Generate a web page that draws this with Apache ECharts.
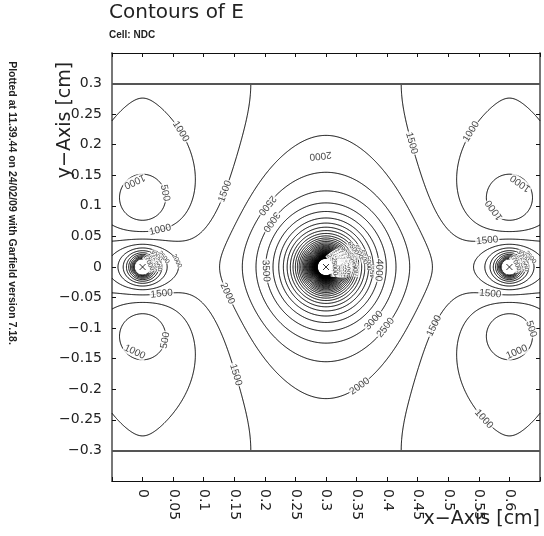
<!DOCTYPE html>
<html><head><meta charset="utf-8">
<script src="https://cdn.jsdelivr.net/npm/echarts@6/dist/echarts.min.js"></script>
<style>html,body{margin:0;padding:0;background:#fff}#c{width:544px;height:536px}</style>
</head><body><div id="c"></div>
<script>
// ---------------- data ----------------
const xTickLabels = ['0','0.05','0.1','0.15','0.2','0.25','0.3','0.35','0.4','0.45','0.5','0.55','0.6'];
const yTickLabels = ['0.3','0.25','0.2','0.15','0.1','0.05','0','−0.05','−0.1','−0.15','−0.2','−0.25','−0.3'];
// cell description (cm): one field wire and one sense wire per period, two planes
const wireX = [0.0, 0.3];
const wireY = [0.0, 0.0];
const wireCharge = [-0.244, 1.0];
const wireRadius = [0.012, 0.001];
const cellPeriod = [0.6];
const planeY = [-0.3, 0.3];
// field value: the 1500 V/cm contour meets the upper plane here
const calibX = [0.177];
const calibY = [0.3];
const calibE = [1500];
// contour levels (V/cm)
const contourLevels = [500,1000,1500,2000,2500,3000,3500,4000,4500,5000,5500,6000,6500,7000,7500,8000,8500,9000,9500,10000,
  10500,11000,11500,12000,12500,13000,13500,14000,14500,15000,15500,16000,16500,17000,17500,18000,18500,19000,19500,20000,
  20500,21000,21500,22000,22500,23000,23500,24000,24500,25000];
// contour labels (approximate position in cm, level, reading direction in degrees)
const labelX =    [0.291, 0.141, 0.430, 0.214, 0.225, 0.217, 0.378, 0.157, 0.162, 0.342, 0.386, 0.366, 0.465,
                   -0.013, 0.030, -0.013, 0.030, 0.618, 0.575, 0.631, 0.612, 0.579, 0.060, 0.540, 0.565, 0.030, 0.030, 0.570];
const labelY =    [0.182, 0.121, 0.200, 0.093, 0.064, -0.005, -0.005, -0.035, -0.173, -0.177, -0.090, -0.076, -0.090,
                   0.140, 0.120, -0.139, -0.119, 0.137, 0.093, -0.103, -0.139, -0.230, 0.220, 0.220, 0.028, -0.030, 0.055, -0.028];
const labelText = ['2000','1500','1500','2500','3000','3500','4000','2000','1500','2000','2500','3000','1500',
                   '1000','500','1000','500','1000','1000','500','1000','1000','1000','1000','1500','1500','1000','1500'];
const labelAngle = [180, 70, -70, -140, -140, -90, -90, -80, -70, 20, 45, 45, 70,
                   -90, -60, -90, 60, 90, 60, -90, 90, 30, -40, 40, 20, 0, 0, -20];
// wire markers
const markX = [0.0, 0.3, 0.6];
const markY = [0.0, 0.0, 0.0];

// ---------------- field model ----------------
const A = cellPeriod[0], H = planeY[1];
function fieldVec(x, y) {
  let re = 0, im = 0;
  for (let w = 0; w < wireX.length; w++) {
    const q = wireCharge[w];
    for (let n = -7; n <= 7; n++) {
      const s = (n % 2 === 0) ? 1 : -1;
      const yi = s * wireY[w] + 2 * n * H;
      const ax = Math.PI * (x - wireX[w]) / A, ay = Math.PI * (y - yi) / A;
      let D = Math.cosh(2 * ay) - Math.cos(2 * ax);
      if (D < 1e-14) D = 1e-14;
      re += q * s * Math.sin(2 * ax) / D;
      im -= q * s * Math.sinh(2 * ay) / D;
    }
  }
  return Math.PI / A * Math.sqrt(re * re + im * im);
}
const K = calibE[0] / fieldVec(calibX[0], calibY[0]);
const fieldAt = (x, y) => K * fieldVec(x, y);
function insideWire(x, y) {
  for (let w = 0; w < wireX.length; w++) {
    let dx = (x - wireX[w]) / A; dx = (dx - Math.round(dx)) * A;
    const dy = y - wireY[w];
    if (dx * dx + dy * dy < wireRadius[w] * wireRadius[w]) return true;
  }
  return false;
}

const x0 = -0.05, x1 = 0.65, y0 = planeY[0], y1 = planeY[1];
const step = 0.00125;
const nx = Math.round((x1 - x0) / step) + 1, ny = Math.round((y1 - y0) / step) + 1;
const F = new Float64Array(nx * ny);
for (let j = 0; j < ny; j++) for (let i = 0; i < nx; i++) {
  const x = x0 + i * step, y = y0 + j * step;
  F[j * nx + i] = insideWire(x, y) ? NaN : fieldAt(x, y);
}
const gx = i => x0 + i * step, gy = j => y0 + j * step;

function contour(L) {
  const segs = [];
  const HOFF = nx * ny;
  function ptH(i, j) { const a = F[j*nx+i], b = F[j*nx+i+1]; const t = (L - a) / (b - a); return [j*nx+i, gx(i) + t*step, gy(j)]; }
  function ptV(i, j) { const a = F[j*nx+i], b = F[(j+1)*nx+i]; const t = (L - a) / (b - a); return [HOFF + j*nx+i, gx(i), gy(j) + t*step]; }
  for (let j = 0; j < ny - 1; j++) for (let i = 0; i < nx - 1; i++) {
    const v0 = F[j*nx+i], v1 = F[j*nx+i+1], v2 = F[(j+1)*nx+i+1], v3 = F[(j+1)*nx+i];
    if (v0 !== v0 || v1 !== v1 || v2 !== v2 || v3 !== v3) continue;
    const s0 = v0 > L, s1 = v1 > L, s2 = v2 > L, s3 = v3 > L;
    if (s0 === s1 && s1 === s2 && s2 === s3) continue;
    const B = s0 !== s1 ? ptH(i, j) : null;
    const R = s1 !== s2 ? ptV(i + 1, j) : null;
    const T = s3 !== s2 ? ptH(i, j + 1) : null;
    const Lf = s0 !== s3 ? ptV(i, j) : null;
    const c = [B, R, T, Lf].filter(Boolean);
    if (c.length === 2) segs.push([c[0], c[1]]);
    else if (c.length === 4) {
      const sc = (v0 + v1 + v2 + v3) / 4 > L;
      if (s0 === sc) { segs.push([B, R]); segs.push([T, Lf]); }
      else { segs.push([Lf, B]); segs.push([R, T]); }
    }
  }
  const map = new Map();
  segs.forEach((s, k) => { for (const p of s) { const l = map.get(p[0]); if (l) l.push(k); else map.set(p[0], [k]); } });
  const used = new Uint8Array(segs.length);
  const lines = [];
  function nextFrom(e) { const l = map.get(e); if (!l) return -1; for (const k of l) if (!used[k]) return k; return -1; }
  for (let k = 0; k < segs.length; k++) {
    if (used[k]) continue;
    used[k] = 1;
    const fw = [segs[k][0], segs[k][1]];
    let e = segs[k][1][0];
    for (;;) { const m = nextFrom(e); if (m < 0) break; used[m] = 1; const s = segs[m]; const o = s[0][0] === e ? s[1] : s[0]; fw.push(o); e = o[0]; }
    e = segs[k][0][0];
    const bw = [];
    for (;;) { const m = nextFrom(e); if (m < 0) break; used[m] = 1; const s = segs[m]; const o = s[0][0] === e ? s[1] : s[0]; bw.push(o); e = o[0]; }
    lines.push(bw.reverse().concat(fw).map(p => [p[1], p[2]]));
  }
  return lines;
}
const lineData = [];
contourLevels.forEach(L => contour(L).forEach(c => lineData.push({ coords: c, value: L })));

// label orientation from the local contour direction
function tangentDeg(x, y, want) {
  const d = 1e-4;
  const gxv = fieldAt(x + d, y) - fieldAt(x - d, y), gyv = fieldAt(x, y + d) - fieldAt(x, y - d);
  let a = Math.atan2(gxv, -gyv) * 180 / Math.PI;
  const diff = v => { let t = ((v - want) % 360 + 540) % 360 - 180; return Math.abs(t); };
  return diff(a) <= diff(a + 180) ? a : a + 180;
}
function snap(x, y, L) {
  let best = 0.03 * 0.03, bx = x, by = y;
  lineData.forEach(d => { if (d.value !== L) return; for (const p of d.coords) { const dd = (p[0] - x) ** 2 + (p[1] - y) ** 2; if (dd < best) { best = dd; bx = p[0]; by = p[1]; } } });
  return [bx, by];
}
const labelData = labelX.map((x, i) => {
  const p = snap(x, labelY[i], Number(labelText[i]));
  return { value: p, label: { formatter: labelText[i], rotate: tangentDeg(p[0], p[1], labelAngle[i]) } };
});
// crowded labels of the innermost rings around each wire, placed along rays
const messData = [];
function ringLabels(cx, cy, rmin, levels, angles) {
  levels.forEach((L, k) => {
    const th = angles[k % angles.length] * Math.PI / 180;
    let lo = rmin, hi = 0.15;
    if (fieldAt(cx + lo * Math.cos(th), cy + lo * Math.sin(th)) < L) return;
    for (let it = 0; it < 40; it++) { const m = (lo + hi) / 2; if (fieldAt(cx + m * Math.cos(th), cy + m * Math.sin(th)) > L) lo = m; else hi = m; }
    const x = cx + lo * Math.cos(th), y = cy + lo * Math.sin(th);
    messData.push({ value: [x, y], label: { formatter: String(L), rotate: tangentDeg(x, y, 0) } });
  });
}
ringLabels(0.3, 0, 0.012, contourLevels.filter(L => L >= 4500), [-5, 5, 15, 25, 35]);
ringLabels(0.0, 0, 0.012, contourLevels.filter(L => L >= 2000 && L <= 8000), [10, 25, 40]);
ringLabels(0.6, 0, 0.012, contourLevels.filter(L => L >= 2000 && L <= 8000), [10, 25, 40]);

// ---------------- chart ----------------
const FONT = 'DejaVu Sans';
const chart = echarts.init(document.getElementById('c'), null, { renderer: 'canvas' });
const xl = v => { const s = Math.round(v * 100) / 100; return (s < -0.001 || s > 0.601) ? '' : xTickLabels[Math.round(s / 0.05)]; };
const yl = v => { const s = Math.round(v * 100) / 100; return (s < -0.301 || s > 0.301) ? '' : yTickLabels[Math.round((0.3 - s) / 0.05)]; };
const xAxisBase = { type: 'value', min: -0.05, max: 0.65, interval: 0.05, splitLine: { show: false } };
const yAxisBase = { type: 'value', min: -0.35, max: 0.35, interval: 0.05, splitLine: { show: false } };
const tick = { inside: true, length: 4, lineStyle: { color: '#111' } };
chart.setOption({
  animation: false,
  backgroundColor: '#fff',
  grid: { left: 112, right: 4, top: 53, bottom: 55, containLabel: false },
  xAxis: [
    Object.assign({}, xAxisBase, { position: 'bottom', axisLine: { onZero: false, lineStyle: { color: '#111', width: 1 } }, axisTick: tick,
      axisLabel: { rotate: -90, margin: 8, fontSize: 14, color: '#222', fontFamily: FONT, formatter: xl } }),
    Object.assign({}, xAxisBase, { position: 'top', axisLine: { onZero: false, lineStyle: { color: '#111', width: 1 } }, axisTick: tick, axisLabel: { show: false } })
  ],
  yAxis: [
    Object.assign({}, yAxisBase, { position: 'left', axisLine: { onZero: false, lineStyle: { color: '#777', width: 2 } }, axisTick: tick,
      axisLabel: { margin: 10, fontSize: 14, color: '#222', fontFamily: FONT, formatter: yl } }),
    Object.assign({}, yAxisBase, { position: 'right', axisLine: { onZero: false, lineStyle: { color: '#777', width: 2 } }, axisTick: tick, axisLabel: { show: false } })
  ],
  series: [
    { type: 'lines', coordinateSystem: 'cartesian2d', polyline: true, silent: true,
      lineStyle: { color: '#000', width: 1, opacity: 1 }, data: lineData,
      markLine: { silent: true, symbol: 'none', label: { show: false },
        lineStyle: { color: '#555', width: 2, type: 'solid' }, data: planeY.map(v => ({ yAxis: v })) } },
    { type: 'scatter', silent: true, symbolSize: 0, z: 5,
      label: { show: true, position: 'inside', fontSize: 6.5, color: '#000', fontFamily: 'Liberation Sans', backgroundColor: '#fff', padding: [0, 0] },
      data: messData },
    { type: 'scatter', silent: true, symbolSize: 0, z: 6,
      label: { show: true, position: 'inside', fontSize: 10, color: '#111', fontFamily: 'Liberation Sans', backgroundColor: '#fff', padding: [0, 1] },
      data: labelData },
    { type: 'scatter', silent: true, symbol: 'path://M0,0L10,10M10,0L0,10', symbolSize: 6, z: 7,
      itemStyle: { color: 'none', borderColor: '#000', borderWidth: 1 },
      data: markX.map((x, i) => [x, markY[i]]) }
  ],
  graphic: [
    { type: 'text', left: 109, top: 3, style: { text: 'Contours of E', fontSize: 20, fontFamily: FONT, fill: '#222' } },
    { type: 'text', left: 109, top: 30, style: { text: 'Cell: NDC', fontSize: 10, fontWeight: 'bold', fontFamily: 'Liberation Sans', fill: '#222' } },
    { type: 'text', x: 65, y: 120, rotation: Math.PI / 2, style: { text: 'y−Axis [cm]', fontSize: 19, fontFamily: FONT, fill: '#222', align: 'center', verticalAlign: 'middle' } },
    { type: 'text', x: 540, y: 519, style: { text: 'x−Axis [cm]', fontSize: 19, fontFamily: FONT, fill: '#222', align: 'right', verticalAlign: 'middle' } },
    { type: 'text', x: 12, y: 203, rotation: -Math.PI / 2, style: { text: 'Plotted at 11.39.44 on 24/02/09 with Garfield version 7.18.', fontSize: 10.5, fontWeight: 'bold', fontFamily: 'Liberation Sans', fill: '#222', align: 'center', verticalAlign: 'middle' } }
  ]
});
</script></body></html>
